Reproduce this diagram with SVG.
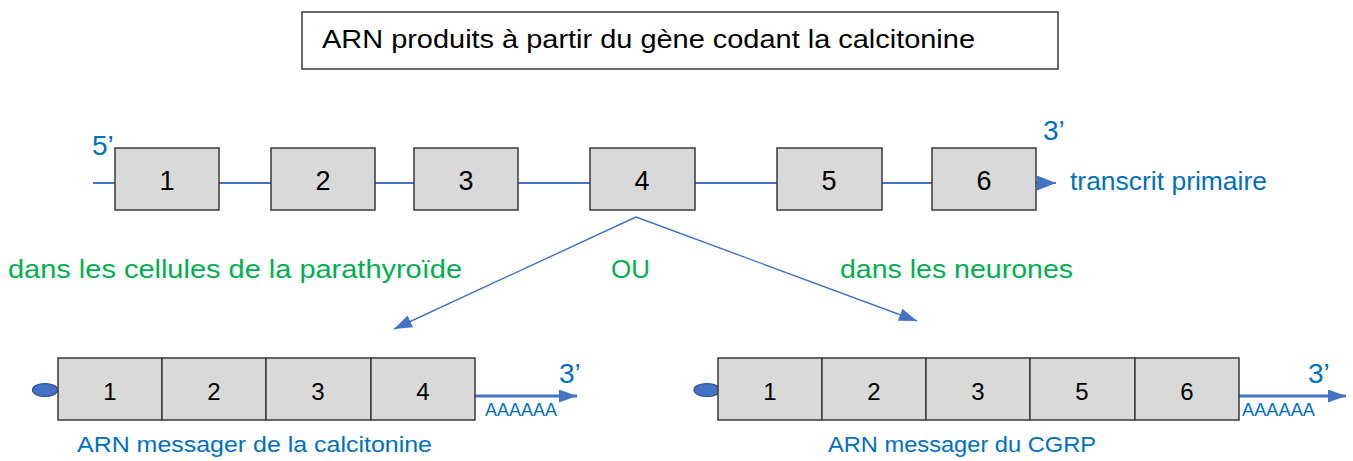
<svg xmlns="http://www.w3.org/2000/svg" width="1353" height="461" viewBox="0 0 1353 461">
  <style>
    .exon { fill: #D9D9D9; stroke: #3A3A3A; stroke-width: 1.5; }
    .num { font-family: "Liberation Sans", Arial, sans-serif; fill: #000; text-anchor: middle; }
    .blue { font-family: "Liberation Sans", Arial, sans-serif; fill: #0070C0; }
    .green { font-family: "Liberation Sans", Arial, sans-serif; fill: #00B050; font-size: 25px; }
    .strand { stroke: #4472C4; fill: none; }
    .cap { fill: #4472C4; stroke: #2F528F; stroke-width: 1.2; }
  </style>
  <defs>
    <marker id="head" markerUnits="userSpaceOnUse" markerWidth="22" markerHeight="16" refX="19" refY="7.5" orient="auto">
      <path d="M0,0 L19,7.5 L0,15 Z" fill="#4472C4"/>
    </marker>
    <marker id="headSmall" markerUnits="userSpaceOnUse" markerWidth="22" markerHeight="16" refX="18" refY="6.5" orient="auto">
      <path d="M0,0 L18,6.5 L0,13 Z" fill="#4472C4"/>
    </marker>
  </defs>

  <rect width="1353" height="461" fill="#FFFFFF"/>

  <!-- title -->
  <g id="title">
    <rect x="302" y="12" width="756" height="57" fill="#FFFFFF" stroke="#1A1A1A" stroke-width="1.3"/>
    <text x="322" y="48" font-family="Liberation Sans, Arial, sans-serif" font-size="25" textLength="653" lengthAdjust="spacingAndGlyphs">ARN produits à partir du gène codant la calcitonine</text>
  </g>

  <!-- connectors -->
  <g id="connectors">
    <line class="strand" x1="93" y1="183" x2="1056" y2="183" stroke-width="2.2" marker-end="url(#head)"/>
    <line class="strand" x1="636" y1="217" x2="394" y2="329" stroke-width="1.4" marker-end="url(#headSmall)"/>
    <line class="strand" x1="636" y1="217" x2="917" y2="321" stroke-width="1.4" marker-end="url(#headSmall)"/>
    <line class="strand" x1="475" y1="396" x2="577" y2="396" stroke-width="2.8" marker-end="url(#headSmall)"/>
    <line class="strand" x1="1239" y1="396" x2="1346" y2="396" stroke-width="2.8" marker-end="url(#headSmall)"/>
  </g>

  <!-- primary transcript -->
  <g id="transcrit">
    <text class="blue" x="92" y="155" font-size="28">5’</text>
    <text class="blue" x="1043" y="140" font-size="28">3’</text>
    <text class="blue" x="1070" y="190" font-size="25" textLength="197" lengthAdjust="spacingAndGlyphs">transcrit primaire</text>
  </g>
  <g id="exon1"><rect class="exon" x="115" y="148" width="104" height="62"/><text class="num" x="167" y="190" font-size="27">1</text></g>
  <g id="exon2"><rect class="exon" x="271" y="148" width="104" height="62"/><text class="num" x="323" y="190" font-size="27">2</text></g>
  <g id="exon3"><rect class="exon" x="414" y="148" width="104" height="62"/><text class="num" x="466" y="190" font-size="27">3</text></g>
  <g id="exon4"><rect class="exon" x="590" y="148" width="105" height="62"/><text class="num" x="642" y="190" font-size="27">4</text></g>
  <g id="exon5"><rect class="exon" x="777" y="148" width="105" height="62"/><text class="num" x="829" y="190" font-size="27">5</text></g>
  <g id="exon6"><rect class="exon" x="932" y="148" width="104" height="62"/><text class="num" x="984" y="190" font-size="27">6</text></g>

  <!-- tissue labels -->
  <g id="labels">
    <text class="green" x="8" y="278" textLength="454" lengthAdjust="spacingAndGlyphs">dans les cellules de la parathyroïde</text>
    <text class="green" x="611" y="278" textLength="39" lengthAdjust="spacingAndGlyphs">OU</text>
    <text class="green" x="840" y="278" textLength="233" lengthAdjust="spacingAndGlyphs">dans les neurones</text>
  </g>

  <!-- calcitonin mRNA -->
  <g id="arnm-calcitonine">
    <ellipse class="cap" cx="45" cy="390" rx="12.5" ry="6.5"/>
    <rect class="exon" x="58" y="358" width="104" height="62"/><text class="num" x="110" y="400" font-size="24">1</text>
    <rect class="exon" x="162" y="358" width="104" height="62"/><text class="num" x="214" y="400" font-size="24">2</text>
    <rect class="exon" x="266" y="358" width="105" height="62"/><text class="num" x="318" y="400" font-size="24">3</text>
    <rect class="exon" x="371" y="358" width="104" height="62"/><text class="num" x="423" y="400" font-size="24">4</text>
    <text class="blue" x="559" y="383" font-size="28">3’</text>
    <text class="blue" x="485" y="416" font-size="17.5" textLength="72" lengthAdjust="spacingAndGlyphs">AAAAAA</text>
    <text class="blue" x="77" y="452" font-size="22.5" textLength="355" lengthAdjust="spacingAndGlyphs">ARN messager de la calcitonine</text>
  </g>

  <!-- CGRP mRNA -->
  <g id="arnm-cgrp">
    <ellipse class="cap" cx="707" cy="390" rx="13" ry="6.5"/>
    <rect class="exon" x="718" y="358" width="104" height="62"/><text class="num" x="770" y="400" font-size="24">1</text>
    <rect class="exon" x="822" y="358" width="104" height="62"/><text class="num" x="874" y="400" font-size="24">2</text>
    <rect class="exon" x="926" y="358" width="104" height="62"/><text class="num" x="978" y="400" font-size="24">3</text>
    <rect class="exon" x="1030" y="358" width="105" height="62"/><text class="num" x="1082" y="400" font-size="24">5</text>
    <rect class="exon" x="1135" y="358" width="104" height="62"/><text class="num" x="1187" y="400" font-size="24">6</text>
    <text class="blue" x="1308" y="383" font-size="28">3’</text>
    <text class="blue" x="1242" y="416" font-size="17.5" textLength="73" lengthAdjust="spacingAndGlyphs">AAAAAA</text>
    <text class="blue" x="828" y="452" font-size="22.5" textLength="268" lengthAdjust="spacingAndGlyphs">ARN messager du CGRP</text>
  </g>
</svg>
